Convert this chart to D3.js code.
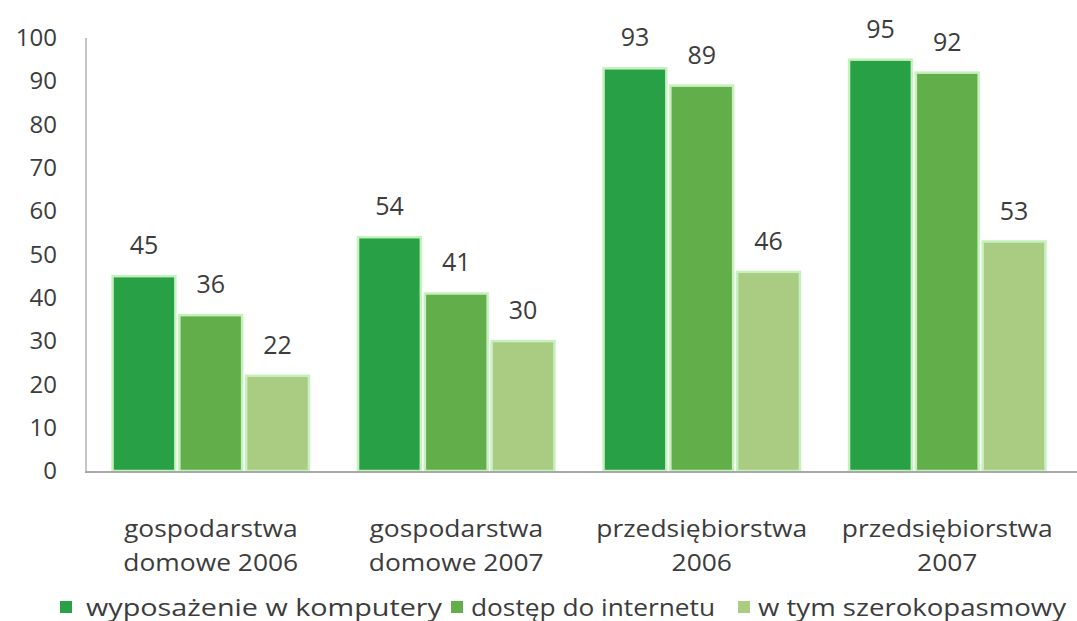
<!DOCTYPE html>
<html>
<head>
<meta charset="utf-8">
<script src="https://cdn.jsdelivr.net/npm/d3@7"></script>
<style>
  html, body { margin: 0; padding: 0; background: #fff; }
  svg { display: block; }
  text { font-family: "Open Sans", "DejaVu Sans", sans-serif; fill: #3c3c3c; }
</style>
</head>
<body>
<svg id="chart" width="1077" height="621"></svg>
<script>
// Category labels (two lines each)
const categories = [
  ["gospodarstwa", "domowe 2006"],
  ["gospodarstwa", "domowe 2007"],
  ["przedsiębiorstwa", "2006"],
  ["przedsiębiorstwa", "2007"]
];
const seriesNames = ["wyposażenie w komputery", "dostęp do internetu", "w tym szerokopasmowy"];
const computers = [45, 54, 93, 95];
const internet  = [36, 41, 89, 92];
const broadband = [22, 30, 46, 53];
const yTicks = [0, 10, 20, 30, 40, 50, 60, 70, 80, 90, 100];

const colors = ["#28a046", "#62ae4b", "#aacb82"];
const seriesValues = [computers, internet, broadband];

const svg = d3.select("#chart");
const catKeys = categories.map((c, i) => "c" + i);

const x0 = d3.scaleBand().domain(catKeys).range([88, 1070]).paddingInner(0.2).paddingOuter(0.1);
const x1 = d3.scaleBand().domain(d3.range(3)).range([0, x0.bandwidth()]).paddingInner(0.06);
const y = d3.scaleLinear().domain([0, 100]).range([471, 38]);

// y axis labels (no ticks, just numbers)
const yAxis = d3.axisLeft(y).tickValues(yTicks).tickSize(0).tickPadding(0);
const gy = svg.append("g").attr("transform", "translate(57,0)").call(yAxis);
gy.select(".domain").remove();
gy.selectAll("text").style("font-size", "24px").attr("fill", "#3c3c3c")
  .style("font-family", "'Open Sans', sans-serif");

// vertical axis line
svg.append("line").attr("x1", 86).attr("x2", 86).attr("y1", y(100)).attr("y2", y(0))
  .attr("stroke", "#c4c4c4").attr("stroke-width", 2);

// bars
const groups = svg.append("g").selectAll("g").data(catKeys).join("g")
  .attr("transform", d => `translate(${x0(d)},0)`);

groups.each(function(key, ci) {
  const g = d3.select(this);
  seriesValues.forEach((vals, si) => {
    const v = vals[ci];
    g.append("rect")
      .attr("x", x1(si)).attr("width", x1.bandwidth())
      .attr("y", y(v)).attr("height", y(0) - y(v))
      .attr("fill", colors[si])
      .attr("stroke", "#c6f1bf").attr("stroke-width", 2.5);
    g.append("text")
      .attr("x", x1(si) + x1.bandwidth() / 2)
      .attr("y", y(v) - 32)
      .attr("text-anchor", "middle").attr("dominant-baseline", "central")
      .style("font-size", "25px")
      .text(v);
  });
});

// baseline
svg.append("line").attr("x1", 85).attr("x2", 1077).attr("y1", y(0) + 1).attr("y2", y(0) + 1)
  .attr("stroke", "#a8a8a8").attr("stroke-width", 2);

// category labels
const catLabels = svg.append("g").selectAll("g").data(categories).join("g")
  .attr("transform", (d, i) => `translate(${x0(catKeys[i]) + x0.bandwidth() / 2},0)`);
catLabels.each(function(lines) {
  const g = d3.select(this);
  lines.forEach((line, li) => {
    const t = g.append("text")
      .attr("x", 0).attr("y", 527 + li * 34)
      .attr("text-anchor", "middle").attr("dominant-baseline", "central")
      .style("font-size", "24px")
      .text(line);
    const w = t.node().getComputedTextLength();
    t.attr("textLength", w * 1.1).attr("lengthAdjust", "spacingAndGlyphs");
  });
});

// legend
const legendPos = [
  { sq: 60, tx: 86, len: 356 },
  { sq: 451, tx: 471, len: 244 },
  { sq: 738, tx: 758, len: 308 }
];
const legend = svg.append("g").selectAll("g").data(seriesNames).join("g");
legend.append("rect")
  .attr("x", (d, i) => legendPos[i].sq).attr("y", 601)
  .attr("width", 12).attr("height", 12)
  .attr("fill", (d, i) => colors[i]);
legend.append("text")
  .attr("x", (d, i) => legendPos[i].tx).attr("y", 606)
  .attr("dominant-baseline", "central")
  .style("font-size", "24px")
  .attr("textLength", (d, i) => legendPos[i].len)
  .attr("lengthAdjust", "spacingAndGlyphs")
  .text(d => d);
</script>
</body>
</html>
